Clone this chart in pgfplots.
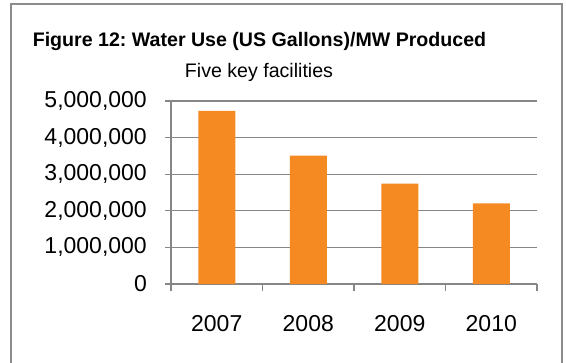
\documentclass[border=0pt]{standalone}
\usepackage{pgfplots}
\pgfplotsset{compat=1.18}
\usepackage{fontspec}
\setmainfont{Liberation Sans}
\frenchspacing
\definecolor{barorange}{RGB}{245,138,34}
\definecolor{gridgray}{RGB}{134,134,134}
\definecolor{framegray}{RGB}{140,140,140}
\begin{document}
\begin{tikzpicture}[x=1bp,y=1bp]
\useasboundingbox (0,0) rectangle (566,362);
\fill[white] (0,0) rectangle (566,362);
\draw[framegray, line width=1.4bp] (11,-20) rectangle (562,358);
\node[anchor=base, inner sep=0pt, font=\fontsize{19.6bp}{22bp}\selectfont\bfseries] at (259.5,316) {Figure 12: Water Use (US Gallons)/MW Produced};
\node[anchor=base, inner sep=0pt, font=\fontsize{19.6bp}{22bp}\selectfont] at (259,285) {Five key facilities};
\begin{axis}[
  at={(171bp,78bp)}, anchor=south west,
  scale only axis, width=366bp, height=183bp,
  xmin=-0.5, xmax=3.5, ymin=0, ymax=5000000,
  axis lines*=left,
  axis line style={gridgray, line width=1.1bp},
  xtick={0,1,2,3}, xticklabels={2007,2008,2009,2010},
  major x tick style={draw=none},
  minor xtick={-0.5,0.5,1.5,2.5,3.5},
  minor x tick style={gridgray, line width=1.1bp},
  minor tick length=7bp,
  ytick={0,1000000,2000000,3000000,4000000,5000000},
  major y tick style={gridgray, line width=1.1bp},
  major tick length=6bp,
  tick align=outside,
  ymajorgrids, major grid style={gridgray, line width=1.1bp},
  scaled y ticks=false,
  /pgf/number format/.cd, fixed, precision=0, 1000 sep={,}, assume math mode=true,
  /pgfplots/.cd,
  tick label style={font=\fontsize{23bp}{26bp}\selectfont, text=black},
  yticklabel style={anchor=east, inner sep=0pt, xshift=-18bp},
  xticklabel style={anchor=north, inner sep=0pt, yshift=-25bp},
  clip=false,
]
\addplot[ybar, bar width=37bp, fill=barorange, draw=none, bar shift=0pt] coordinates {(0,4730000) (1,3510000) (2,2740000) (3,2200000)};
\end{axis}
\end{tikzpicture}
\end{document}
